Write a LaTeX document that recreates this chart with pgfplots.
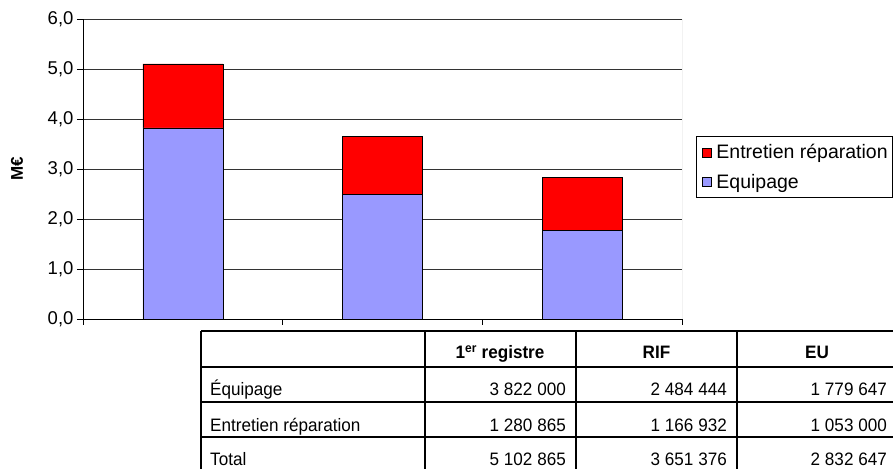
\documentclass[border=0pt]{standalone}
\usepackage{fontspec}
\setmainfont{Liberation Sans}
\usepackage{graphicx}
\usepackage{pgfplots}
\pgfplotsset{compat=1.18}
\definecolor{equip}{RGB}{153,153,255}
\definecolor{entr}{RGB}{255,0,0}
\newcommand{\tf}[1]{\scalebox{0.95}[1]{\fontsize{18}{20}\selectfont #1}}
\newcommand{\tfb}[1]{\scalebox{0.95}[1]{\fontsize{18}{20}\selectfont\bfseries #1}}
\begin{document}
\begin{tikzpicture}[x=1pt,y=1pt]
\useasboundingbox (0,0) rectangle (893,468);
\clip (0,0) rectangle (893,468);
\begin{axis}[
  at={(83pt,149pt)}, anchor=south west,
  scale only axis, width=599pt, height=300pt,
  xmin=-0.5, xmax=2.5, ymin=0, ymax=6,
  ybar stacked, bar width=80pt,
  axis x line=bottom, axis y line=left,
  axis line style={-, black, line width=0.9pt},
  xtick={-0.5,0.5,1.5,2.5}, xticklabels={},
  ytick={0,1,2,3,4,5,6},
  tick align=outside, major tick length=6pt,
  tick style={black, line width=0.9pt},
  ymajorgrids, grid style={black!80, line width=0.8pt},
  /pgf/number format/assume math mode=true,
  yticklabel style={/pgf/number format/fixed, /pgf/number format/precision=1,
    /pgf/number format/fixed zerofill, /pgf/number format/use comma,
    font=\fontsize{18.5}{20}\selectfont},
  ylabel={M€},
  ylabel style={font=\fontsize{17}{18}\selectfont\bfseries, at={(axis description cs:-0.11,0.5)}, anchor=center},
  legend image code/.code={\path[draw=none,fill=none] (0pt,0pt) (15pt,0pt); \draw[#1, draw=black, line width=0.6pt] (3pt,-4.5pt) rectangle (12pt,4.5pt);},
  reverse legend,
  legend style={at={(axis description cs:1.0234,0.61)}, anchor=north west,
    draw=black, line width=0.8pt, font=\fontsize{19.5}{21}\selectfont,
    cells={anchor=west}, row sep=10pt, inner xsep=3pt, inner ysep=6pt},
]
\addplot[fill=equip, draw=black, line width=0.6pt] coordinates {(0,3.822000) (1,2.484444) (2,1.779647)};
\addplot[fill=entr, draw=black, line width=0.6pt] coordinates {(0,1.280865) (1,1.166932) (2,1.053000)};
\legend{Equipage, Entretien réparation}
\draw[black!40, line width=1pt] (rel axis cs:1,0) -- (rel axis cs:1,1);
\end{axis}
% table
\begin{scope}[line width=1.2pt]
\foreach \yy in {137,101,66,31,-5} \draw (201,\yy) -- (897,\yy);
\foreach \xx in {201,425,576,737,897} \draw (\xx,137) -- (\xx,-5);
\end{scope}
\node[anchor=base] at (500,109) {\tfb{1\textsuperscript{er} registre}};
\node[anchor=base] at (656.5,109) {\tfb{RIF}};
\node[anchor=base] at (817,109) {\tfb{EU}};
\node[anchor=base west, inner sep=0pt] at (210,72) {\tf{Équipage}};
\node[anchor=base west, inner sep=0pt] at (210,37) {\tf{Entretien réparation}};
\node[anchor=base west, inner sep=0pt] at (210,3) {\tf{Total}};
\node[anchor=base east, inner sep=0pt] at (566,72) {\tf{3 822 000}};
\node[anchor=base east, inner sep=0pt] at (727,72) {\tf{2 484 444}};
\node[anchor=base east, inner sep=0pt] at (887,72) {\tf{1 779 647}};
\node[anchor=base east, inner sep=0pt] at (566,37) {\tf{1 280 865}};
\node[anchor=base east, inner sep=0pt] at (727,37) {\tf{1 166 932}};
\node[anchor=base east, inner sep=0pt] at (887,37) {\tf{1 053 000}};
\node[anchor=base east, inner sep=0pt] at (566,3) {\tf{5 102 865}};
\node[anchor=base east, inner sep=0pt] at (727,3) {\tf{3 651 376}};
\node[anchor=base east, inner sep=0pt] at (887,3) {\tf{2 832 647}};
\end{tikzpicture}
\end{document}
